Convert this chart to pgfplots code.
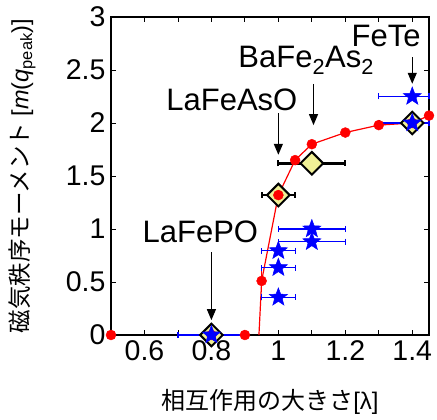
\documentclass[border=0pt]{standalone}
\usepackage{pgfplots}
\pgfplotsset{compat=1.18}
\usepackage{fontspec}
\setmainfont{Liberation Sans}
\newfontfamily\cjk{Noto Sans CJK JP}
\usetikzlibrary{arrows.meta}
\definecolor{dyellow}{RGB}{240,240,150}
\pgfdeclareplotmark{fstar}{%
  \pgfpathmoveto{\pgfpointpolar{90}{\pgfplotmarksize}}%
  \pgfpathlineto{\pgfpointpolar{126}{0.42\pgfplotmarksize}}%
  \pgfpathlineto{\pgfpointpolar{162}{\pgfplotmarksize}}%
  \pgfpathlineto{\pgfpointpolar{198}{0.42\pgfplotmarksize}}%
  \pgfpathlineto{\pgfpointpolar{234}{\pgfplotmarksize}}%
  \pgfpathlineto{\pgfpointpolar{270}{0.42\pgfplotmarksize}}%
  \pgfpathlineto{\pgfpointpolar{306}{\pgfplotmarksize}}%
  \pgfpathlineto{\pgfpointpolar{342}{0.42\pgfplotmarksize}}%
  \pgfpathlineto{\pgfpointpolar{18}{\pgfplotmarksize}}%
  \pgfpathlineto{\pgfpointpolar{54}{0.42\pgfplotmarksize}}%
  \pgfpathclose
  \pgfusepathqfillstroke}
\begin{document}
\begin{tikzpicture}
\path[use as bounding box] (-111pt,-85pt) rectangle (326pt,335pt);
\begin{axis}[
  scale only axis, width=318pt, height=318pt,
  xmin=0.5, xmax=1.45, ymin=0, ymax=3,
  xtick={0.6,0.8,1,1.2,1.4},
  xticklabels={0.6,0.8,1,1.2,1.4},
  minor xtick={0.5,0.7,0.9,1.1,1.3},
  ytick={0,0.5,1,1.5,2,2.5,3},
  yticklabels={0,0.5,1,1.5,2,2.5,3},
  tick align=inside,
  major tick length=5pt, minor tick length=5pt,
  every tick/.style={black, line width=0.8pt},
  axis line style={line width=1.2pt},
  tick label style={font=\fontsize{28.5}{28.5}\selectfont},
  xticklabel style={yshift=-2pt},
  yticklabel style={xshift=-2pt},
  clip=false,
  xlabel={{\cjk 相互作用の大きさ}[λ]},
  ylabel={{\cjk 磁気秩序モーメント} [\textit{m}(\textit{q}\textsubscript{peak})]},
  every axis x label/.style={at={([yshift=-67pt]axis description cs:0.5,0)}, anchor=center, font=\fontsize{24}{24}\selectfont},
  every axis y label/.style={at={([xshift=-89pt]axis description cs:0,0.5)}, anchor=center, rotate=90, font=\fontsize{23.5}{23.5}\selectfont},
]
% diamonds
\addplot[black, only marks, mark=square*, mark size=8pt,
  mark options={rotate=45, fill=dyellow, draw=black, line width=2pt},
  error bars/.cd, x dir=both, x explicit,
  error bar style={line width=2.5pt, black},
  error mark options={rotate=90, mark size=3pt, line width=2pt, black}]
  coordinates {(0.8,0) += (0.1,0) -= (0.1,0)
               (1.0,1.32) += (0.05,0) -= (0.05,0)
               (1.1,1.62) += (0.1,0) -= (0.1,0)
               (1.4,2.0) += (0.05,0) -= (0.1,0)};
% red line
\addplot[red, line width=1.2pt, no marks]
  coordinates {(0.942,0)(0.95,0.51)(1.0,1.32)(1.05,1.65)(1.1,1.80)(1.2,1.91)(1.3,1.98)(1.4,2.0)(1.45,2.07)};
\addplot[draw=none, mark=none, forget plot,
  error bars/.cd, y dir=both, y explicit,
  error bar style={red, line width=1pt},
  error mark options={red, mark size=3pt, line width=1pt}]
  coordinates {(0.95,0.51) +- (0,0.08)};
\addplot[red, only marks, mark=*, mark size=5pt]
  coordinates {(0.5,0)(0.8,0)(0.9,0)(0.95,0.51)(1.0,1.32)(1.05,1.65)(1.1,1.80)(1.2,1.91)(1.3,1.98)(1.4,2.0)(1.45,2.07)};
% blue stars
\addplot[blue, only marks, mark=fstar, mark size=9.5pt,
  mark options={fill=blue, draw=blue, line width=0.5pt},
  error bars/.cd, x dir=both, x explicit,
  error bar style={blue, line width=1.2pt},
  error mark options={rotate=90, blue, mark size=3pt, line width=1.2pt}]
  coordinates {(0.8,0) += (0.1,0) -= (0.1,0)
               (1.0,0.355) += (0.05,0) -= (0.05,0)
               (1.0,0.635) += (0.05,0) -= (0.05,0)
               (1.0,0.795) += (0.05,0) -= (0.05,0)
               (1.1,0.88) += (0.1,0) -= (0.1,0)
               (1.1,1.0) += (0.1,0) -= (0.1,0)
               (1.4,2.25) += (0.05,0) -= (0.1,0)
               (1.4,2.0) += (0.05,0) -= (0.1,0)};
% arrows
\draw[line width=1.2pt, -{Triangle[length=11pt,width=9pt]}] (axis cs:0.8,0.78) -- (axis cs:0.8,0.14);
\draw[line width=1.2pt, -{Triangle[length=11pt,width=9pt]}] (axis cs:1.0,2.09) -- (axis cs:1.0,1.70);
\draw[line width=1.2pt, -{Triangle[length=11pt,width=9pt]}] (axis cs:1.105,2.37) -- (axis cs:1.105,1.98);
\draw[line width=1.2pt, -{Triangle[length=11pt,width=9pt]}] (axis cs:1.4,2.62) -- (axis cs:1.4,2.37);
% labels
\node[anchor=base, font=\fontsize{31}{31}\selectfont] at (axis cs:0.767,0.868) {LaFePO};
\node[anchor=base, font=\fontsize{31}{31}\selectfont] at (axis cs:0.861,2.12) {LaFeAsO};
\node[anchor=base, font=\fontsize{31}{31}\selectfont] at (axis cs:1.083,2.52) {BaFe\textsubscript{2}As\textsubscript{2}};
\node[anchor=base, font=\fontsize{31}{31}\selectfont] at (axis cs:1.322,2.72) {FeTe};
\end{axis}
\end{tikzpicture}
\end{document}
